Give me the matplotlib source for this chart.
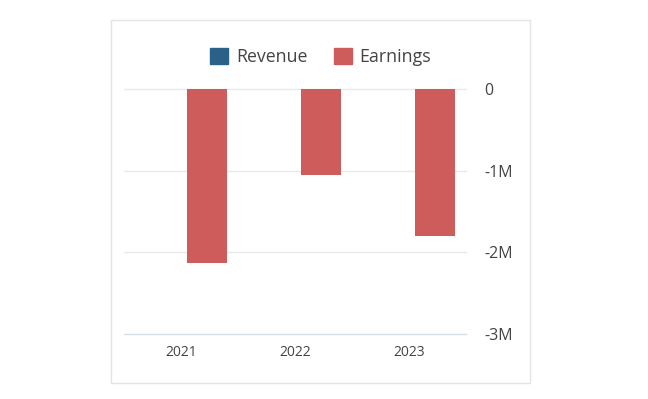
import numpy as np
import matplotlib.pyplot as plt
from matplotlib.patches import Rectangle, Patch
from matplotlib.ticker import FuncFormatter

plt.rcParams['font.family'] = ['Open Sans', 'DejaVu Sans']

years = ['2021', '2022', '2023']
revenue = [0, 0, 0]
earnings = [-2.13e6, -1.05e6, -1.80e6]
y_ticks = [0, -1e6, -2e6, -3e6]

rev_color = '#2b6189'
earn_color = '#cd5c5a'

fig = plt.figure(figsize=(6.48, 3.99), dpi=100)
fig.patch.set_facecolor('white')

# card outline (behind the axes)
card = Rectangle((0.171, 0.04), 0.647, 0.91, transform=fig.transFigure,
                 facecolor='white', edgecolor='#e4e4e4', linewidth=1.0, zorder=-10)
fig.add_artist(card)

ax = fig.add_axes([0.1914, 0.1629, 0.5277, 0.6141])
ax.patch.set_alpha(0)
ax.set_zorder(5)

x = np.arange(len(years))
w = 0.35
ax.bar(x - 0.18, revenue, w, color=rev_color, zorder=3)
ax.bar(x + 0.23, earnings, w, color=earn_color, zorder=3)

ax.set_xlim(-0.5, 2.5)
ax.set_ylim(-3e6, 0)
ax.set_yticks(y_ticks)
ax.yaxis.set_major_formatter(FuncFormatter(lambda v, p: '0' if v == 0 else f'{v/1e6:.0f}M'))
ax.yaxis.tick_right()
ax.set_xticks(x)
ax.set_xticklabels(years)

for t in y_ticks:
    ax.axhline(t, color='#d6deea' if t == -3e6 else '#e9e9e9', linewidth=1.0, zorder=1,
               clip_on=False)

for s in ax.spines.values():
    s.set_visible(False)
ax.tick_params(axis='both', length=0, colors='#444444')
ax.tick_params(axis='y', labelsize=11.5, pad=13)
ax.tick_params(axis='x', labelsize=10, pad=8)

handles = [Patch(color=rev_color, label='Revenue'), Patch(color=earn_color, label='Earnings')]
fig.legend(handles=handles, loc='center', bbox_to_anchor=(0.495, 0.857), ncol=2, frameon=False,
           fontsize=12.8, handlelength=1.0, handleheight=1.0, handletextpad=0.45, columnspacing=1.5,
           labelcolor='#444444')

fig.savefig('out.png', dpi=100)
